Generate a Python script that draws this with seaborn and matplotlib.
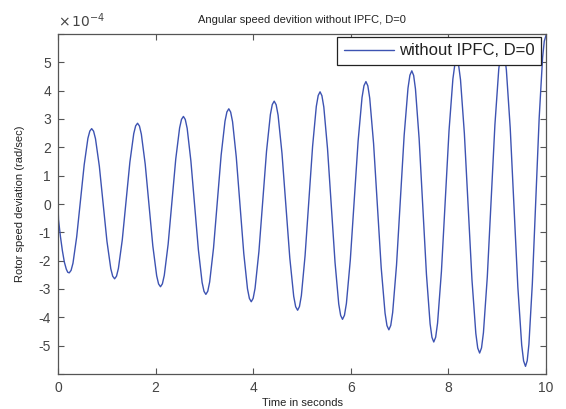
import numpy as np
import pandas as pd
import matplotlib
matplotlib.use("Agg")
import matplotlib.pyplot as plt
import seaborn as sns
from matplotlib.ticker import FuncFormatter, MultipleLocator

# Time (s) and rotor speed deviation (units of 1e-4 rad/sec)
time_s = [
    0.0, 0.01, 0.05, 0.09, 0.13, 0.17, 0.20, 0.23,
    0.268, 0.307, 0.383, 0.46, 0.537, 0.613, 0.652, 0.69,
    0.729, 0.768, 0.847, 0.925, 1.003, 1.082, 1.121, 1.16,
    1.199, 1.238, 1.317, 1.395, 1.473, 1.552, 1.591, 1.63,
    1.669, 1.708, 1.787, 1.865, 1.943, 2.022, 2.061, 2.10,
    2.139, 2.178, 2.257, 2.335, 2.413, 2.492, 2.531, 2.57,
    2.608, 2.647, 2.723, 2.80, 2.877, 2.953, 2.992, 3.03,
    3.069, 3.108, 3.187, 3.265, 3.343, 3.422, 3.461, 3.50,
    3.538, 3.577, 3.653, 3.73, 3.807, 3.883, 3.922, 3.96,
    3.999, 4.038, 4.117, 4.195, 4.273, 4.352, 4.391, 4.43,
    4.47, 4.51, 4.59, 4.67, 4.75, 4.83, 4.87, 4.91,
    4.948, 4.987, 5.063, 5.14, 5.217, 5.293, 5.332, 5.37,
    5.408, 5.447, 5.523, 5.60, 5.677, 5.753, 5.792, 5.83,
    5.87, 5.91, 5.99, 6.07, 6.15, 6.23, 6.27, 6.31,
    6.349, 6.388, 6.467, 6.545, 6.623, 6.702, 6.741, 6.78,
    6.819, 6.858, 6.937, 7.015, 7.093, 7.172, 7.211, 7.25,
    7.288, 7.325, 7.40, 7.475, 7.55, 7.625, 7.663, 7.70,
    7.739, 7.778, 7.857, 7.935, 8.013, 8.092, 8.131, 8.17,
    8.209, 8.248, 8.327, 8.405, 8.483, 8.562, 8.601, 8.64,
    8.679, 8.718, 8.797, 8.875, 8.953, 9.032, 9.071, 9.11,
    9.149, 9.188, 9.267, 9.345, 9.423, 9.502, 9.541, 9.58,
    9.615, 9.65, 9.72, 9.79, 9.86, 9.93, 9.965, 10.0,
]
speed_dev_e4 = [
    0.0, -0.55, -1.15, -1.65, -2.05, -2.30, -2.41, -2.43,
    -2.343, -2.089, -1.158, 0.115, 1.388, 2.319, 2.573, 2.66,
    2.57, 2.305, 1.335, 0.01, -1.315, -2.285, -2.55, -2.64,
    -2.547, -2.272, -1.268, 0.105, 1.478, 2.482, 2.757, 2.85,
    2.752, 2.463, 1.408, -0.035, -1.478, -2.533, -2.822, -2.92,
    -2.818, -2.517, -1.418, 0.085, 1.588, 2.687, 2.988, 3.09,
    2.983, 2.669, 1.52, -0.05, -1.62, -2.769, -3.083, -3.19,
    -3.079, -2.751, -1.553, 0.085, 1.723, 2.921, 3.249, 3.36,
    3.244, 2.904, 1.658, -0.045, -1.748, -2.994, -3.334, -3.45,
    -3.33, -2.976, -1.68, 0.09, 1.86, 3.156, 3.51, 3.63,
    3.505, 3.136, 1.785, -0.06, -1.905, -3.256, -3.625, -3.75,
    -3.619, -3.233, -1.823, 0.105, 2.033, 3.443, 3.829, 3.96,
    3.823, 3.422, 1.953, -0.055, -2.063, -3.532, -3.933, -4.07,
    -3.927, -3.508, -1.973, 0.125, 2.223, 3.758, 4.177, 4.32,
    4.171, 3.733, 2.13, -0.06, -2.25, -3.853, -4.291, -4.44,
    -4.285, -3.828, -2.155, 0.13, 2.415, 4.088, 4.545, 4.70,
    4.537, 4.059, 2.308, -0.085, -2.478, -4.229, -4.707, -4.87,
    -4.701, -4.203, -2.383, 0.105, 2.593, 4.413, 4.911, 5.08,
    4.904, 4.387, 2.495, -0.09, -2.675, -4.567, -5.084, -5.26,
    -5.077, -4.54, -2.575, 0.11, 2.795, 4.76, 5.297, 5.48,
    5.289, 4.729, 2.678, -0.125, -2.928, -4.979, -5.539, -5.73,
    -5.531, -4.947, -2.81, 0.11, 3.03, 5.167, 5.751, 5.95,
]
series_label = "without IPFC, D=0"
title_text = "Angular speed devition without IPFC, D=0"
x_label = "Time in seconds"
y_label = "Rotor speed deviation (rad/sec)"
scale = 1e-4

sns.set_theme(style="white")
plt.rcParams["font.family"] = ["Liberation Sans", "DejaVu Sans"]

df = pd.DataFrame({"t": time_s, "w": np.array(speed_dev_e4) * scale})

fig = plt.figure(figsize=(5.66, 4.09), dpi=100)
ax = fig.add_axes([58 / 566, 1 - 374 / 409, (546 - 58) / 566, (374 - 34) / 409])

sns.lineplot(data=df, x="t", y="w", ax=ax, color="#3d53b2", linewidth=1.0,
             estimator=None, sort=False, label=series_label)

ax.set_xlim(0, 10)
ax.set_ylim(-6e-4, 6e-4)
ax.xaxis.set_major_locator(MultipleLocator(2))
ax.yaxis.set_major_locator(MultipleLocator(1e-4))
ax.yaxis.set_major_formatter(FuncFormatter(lambda v, p: "" if abs(round(v / scale)) > 5 else f"{round(v / scale):d}"))

txt_col = "#444444"
ax.tick_params(direction="in", length=4, width=0.8, colors="#555555",
               labelcolor=txt_col, labelsize=10, top=True, right=True,
               bottom=True, left=True, pad=5)
for s in ax.spines.values():
    s.set_color("#555555")
    s.set_linewidth(0.9)

ax.set_title(title_text, fontsize=8, color="#222222", pad=8)
ax.set_xlabel(x_label, fontsize=8, color="#222222", labelpad=2)
ax.set_ylabel(y_label, fontsize=8, color="#222222", labelpad=10)
ax.text(0.0, 1.012, r"$\times\,10^{-4}$", transform=ax.transAxes, fontsize=10,
        color=txt_col, ha="left", va="bottom")

leg = ax.legend(loc="upper right", bbox_to_anchor=(0.99, 0.992), borderaxespad=0,
                fontsize=12, frameon=True, fancybox=False, handlelength=3.0,
                borderpad=0.4, handletextpad=0.3)
leg.get_frame().set_edgecolor("#222222")
leg.get_frame().set_linewidth(0.9)
leg.get_frame().set_alpha(1.0)
for t in leg.get_texts():
    t.set_color("#222222")

fig.savefig("out.png", dpi=100)
